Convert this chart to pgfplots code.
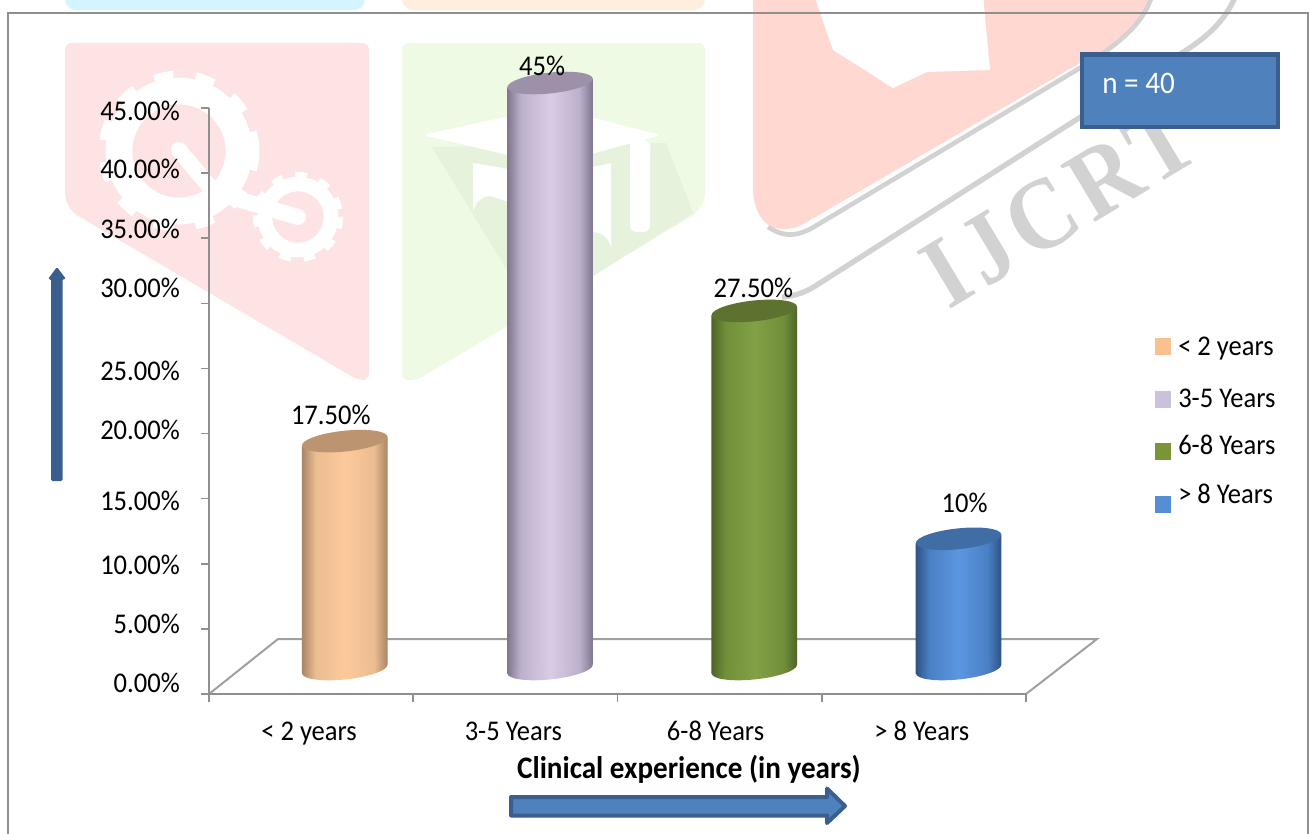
\documentclass[border=0pt]{standalone}
\usepackage{pgfplots}
\pgfplotsset{compat=1.18}
\usepackage{fontspec}
\setmainfont[FakeStretch=0.93]{Carlito}
\newfontfamily\wmfont[LetterSpace=7,FakeStretch=0.9]{Liberation Serif}
\definecolor{axgray}{HTML}{8F8F8F}
\definecolor{wmgray}{HTML}{D2D2D2}
\definecolor{pinkw}{HTML}{FDE3E3}
\definecolor{greenw}{HTML}{EEFAE3}
\definecolor{greenws}{HTML}{E6F2DC}
\definecolor{redw}{HTML}{FFD8D2}
\definecolor{cyanw}{HTML}{D3F5FF}
\definecolor{peachw}{HTML}{FFEEDD}
\definecolor{boxfill}{HTML}{4F81BD}
\definecolor{boxline}{HTML}{3A5F8F}
\definecolor{capO}{HTML}{BC9470}
\definecolor{capP}{HTML}{9C91A9}
\definecolor{capG}{HTML}{5C722E}
\definecolor{capB}{HTML}{406DA3}
\definecolor{legO}{HTML}{FAC090}
\definecolor{legP}{HTML}{CCC1DA}
\definecolor{legG}{HTML}{7A9439}
\definecolor{legB}{HTML}{558ED5}
\newcommand\cylshade[4]{\pgfdeclarehorizontalshading{#1}{100bp}{rgb(0bp)=(#2);rgb(25bp)=(#2);rgb(33bp)=(#3);rgb(50bp)=(#4);rgb(67bp)=(#3);rgb(75bp)=(#2);rgb(100bp)=(#2)}}
\cylshade{cylO}{.66,.52,.40}{.92,.74,.57}{.99,.79,.61}
\cylshade{cylP}{.50,.46,.56}{.74,.69,.80}{.85,.80,.90}
\cylshade{cylG}{.30,.39,.16}{.44,.56,.22}{.51,.63,.27}
\cylshade{cylB}{.18,.32,.52}{.29,.50,.77}{.36,.59,.88}
\newcommand\cylcap[2]{\tikz{\path[draw=none,#1] (0,0) [rotate=#2] ellipse (32.2pt and 7.8pt);}}
\newcommand\yl[2]{\raisebox{#1pt}{#2}}
\newcommand\chartfont{\fontsize{21.4}{25}\selectfont}
\begin{document}
\begin{tikzpicture}
\begin{scope}[x=0.75pt,y=-0.75pt]
\path[use as bounding box] (0,0) rectangle (1309,833);
% top fragments
\fill[cyanw,rounded corners=8] (65,-30) rectangle (365,10);
\fill[peachw,rounded corners=8] (402,-30) rectangle (705,10);
% pink shield
\fill[pinkw,rounded corners=5] (65,43) -- (369,43) -- (369,380) -- (358,380) -- (73,213) -- (65,200) -- cycle;
\draw[white,line width=20] (179,151) circle (60);
\draw[white,line width=11,dash pattern=on 14 off 16] (179,151) circle (73);
\draw[white,line width=11] (298,217) circle (33);
\draw[white,line width=9,dash pattern=on 8 off 9] (298,217) circle (39);
\draw[white,line width=12,line cap=round] (179,150) -- (214,192) -- (298,217);
% green shield
\fill[greenw,rounded corners=5] (402,43) -- (705,43) -- (705,200) -- (697,213) -- (417,380) -- (402,380) -- cycle;
\fill[greenws] (432,147) -- (505,267) -- (550,300) -- (595,275) -- (693,213) -- (666,143) -- cycle;
\fill[white,rounded corners=4] (422,135) -- (551,107) -- (661,135) -- (551,165) -- cycle;
\fill[white] (473,163) -- (473,214) arc (180:270:18) -- (593,232) arc (-90:0:18) -- (611,163) -- (551,176) -- cycle;
\fill[white,rounded corners=5] (630,140) rectangle (650,232);
% red shape
\fill[redw] (753,-5) -- (753,190) .. controls (755,225) and (775,235) .. (800,226) -- (1080,63) .. controls (1125,40) and (1145,20) .. (1152,-5) -- cycle;
\fill[white] (814,-5) -- (833,50) -- (893,88) -- (927,72) -- (990,70) -- (983,-5) -- cycle;
\draw[wmgray,line width=3.5] (1152,-5) .. controls (1145,20) and (1125,40) .. (1085,65) -- (812,228) .. controls (790,240) and (778,233) .. (768,227);
\draw[wmgray,line width=4] (1236,-5) .. controls (1225,22) and (1205,40) .. (1170,60) -- (820,283) .. controls (805,293) and (795,296) .. (782,297);
\node[text=wmgray,rotate=31,inner sep=0pt] at (1060,205) {\fontsize{76}{88}\selectfont\bfseries\wmfont IJCRT};
% frame
\draw[axgray,line width=1.5] (8,835) -- (8,13) -- (1308,13) -- (1308,835);
% floor
\draw[axgray!85,line width=1.5] (209,694) -- (278,639) -- (1097,639) -- (1026,694);
\end{scope}

\begin{axis}[
  at={(156.75pt,-520.5pt)},anchor=south west,
  scale only axis,width=612.75pt,height=439.5pt,
  xmin=0,xmax=4,ymin=0,ymax=45,
  axis x line=bottom,axis y line=left,
  axis line style={-,draw=axgray,line width=1.5pt},
  clip=false,
  tick align=outside,
  major tick length=6pt,minor tick length=6pt,
  tick style={draw=axgray,line width=1.2pt},
  xtick={0.49,1.49,2.48,3.49},
  xticklabels={{< 2 years},{3-5 Years},{6-8 Years},{> 8 Years}},
  minor xtick={0,1,2,3,4},
  major x tick style={draw=none},
  ytick={0,5,10,15,20,25,30,35,40,45},
  yticklabels={{\yl{1.0}{0.00\%}},{\yl{-3.8}{5.00\%}},{\yl{-7.8}{10.00\%}},{\yl{-8.8}{15.00\%}},{\yl{-4.3}{20.00\%}},{\yl{-9.3}{25.00\%}},{\yl{4.5}{30.00\%}},{\yl{0}{35.00\%}},{\yl{-4}{40.00\%}},{\yl{-9.4}{45.00\%}}},
  tick label style={font=\chartfont},
  yticklabel style={anchor=base east,inner sep=0pt,xshift=-15.75pt},
  xticklabel style={anchor=base,inner sep=0pt,yshift=-29pt},
  xlabel={\fontsize{23.5}{28}\selectfont\textbf{Clinical experience (in years)}},
  every axis x label/.style={at={(axis description cs:0.5875,0)},anchor=center,yshift=-56.5pt},
  nodes near coords style={font=\chartfont},
  point meta=explicit symbolic,
]
% bottoms of the cylinders
\addplot[only marks,xshift=26pt,yshift=18.75pt,mark=text,text mark={\cylcap{shading=cylO}{6}}] coordinates {(0.495,0)};
\addplot[only marks,xshift=26pt,yshift=18.75pt,mark=text,text mark={\cylcap{shading=cylP}{6}}] coordinates {(1.5,0)};
\addplot[only marks,xshift=26pt,yshift=18.75pt,mark=text,text mark={\cylcap{shading=cylG}{6}}] coordinates {(2.5,0)};
\addplot[only marks,xshift=26pt,yshift=18.75pt,mark=text,text mark={\cylcap{shading=cylB}{6}}] coordinates {(3.5,0)};
% bars (sheared so that their ends follow the tilted caps)
\addplot[ybar,bar width=64.4pt,bar shift=0pt,draw=none,shading=cylO,xshift=26pt,yshift=10.79pt,yslant=0.105] coordinates {(0.495,17.5)};
\addplot[ybar,bar width=64.4pt,bar shift=0pt,draw=none,shading=cylP,xshift=26pt,yshift=-5.38pt,yslant=0.105] coordinates {(1.5,45)};
\addplot[ybar,bar width=64.4pt,bar shift=0pt,draw=none,shading=cylG,xshift=26pt,yshift=-21.46pt,yslant=0.105] coordinates {(2.5,27.5)};
\addplot[ybar,bar width=64.4pt,bar shift=0pt,draw=none,shading=cylB,xshift=26pt,yshift=-37.55pt,yslant=0.105] coordinates {(3.5,10)};
% tops of the cylinders with the data labels
\addplot[only marks,xshift=26pt,yshift=18.75pt,mark=text,text mark={\cylcap{fill=capO}{6}},
  nodes near coords,every node near coord/.append style={anchor=center,xshift=-10.5pt,yshift=19.5pt}] coordinates {(0.495,17.5)[17.50\%]};
\addplot[only marks,xshift=26pt,yshift=18.75pt,mark=text,text mark={\cylcap{fill=capP}{6}},
  nodes near coords,every node near coord/.append style={anchor=center,xshift=-6pt,yshift=12.75pt}] coordinates {(1.5,45)[45\%]};
\addplot[only marks,xshift=26pt,yshift=18.75pt,mark=text,text mark={\cylcap{fill=capG}{6}},
  nodes near coords,every node near coord/.append style={anchor=center,xshift=-0.75pt,yshift=17.25pt}] coordinates {(2.5,27.5)[27.50\%]};
\addplot[only marks,xshift=26pt,yshift=18.75pt,mark=text,text mark={\cylcap{fill=capB}{6}},
  nodes near coords,every node near coord/.append style={anchor=center,xshift=4.5pt,yshift=27pt}] coordinates {(3.5,10)[10\%]};
\end{axis}

\begin{scope}[x=0.75pt,y=-0.75pt]
% n box
\draw[boxline,fill=boxfill,line width=3.2] (1082,54.5) rectangle (1278,127);
\node[text=white,anchor=base west,inner sep=0pt,font=\fontsize{23.5}{28}\selectfont] at (1102,93) {n = 40};
% arrows
\fill[boxline,rounded corners=1] (51,481) -- (51,279) -- (48,279) -- (57,267) -- (66,279) -- (62.5,279) -- (62.5,481) -- cycle;
\draw[boxline,fill=boxfill,line width=3,line join=round] (511,797) -- (827,797) -- (827,788.5) -- (845,806) -- (827,823) -- (827,815.5) -- (511,815.5) -- cycle;
% legend
\foreach \yy/\cc/\lab/\ty in {338/legO/{< 2 years}/355,391/legP/{3-5 Years}/407,443/legG/{6-8 Years}/454,496/legB/{> 8 Years}/503}{
  \fill[\cc] (1155,\yy) rectangle +(16,17);
  \node[anchor=base west,inner sep=0pt,font=\chartfont] at (1178,\ty) {\lab};
}
\end{scope}
\end{tikzpicture}
\end{document}
